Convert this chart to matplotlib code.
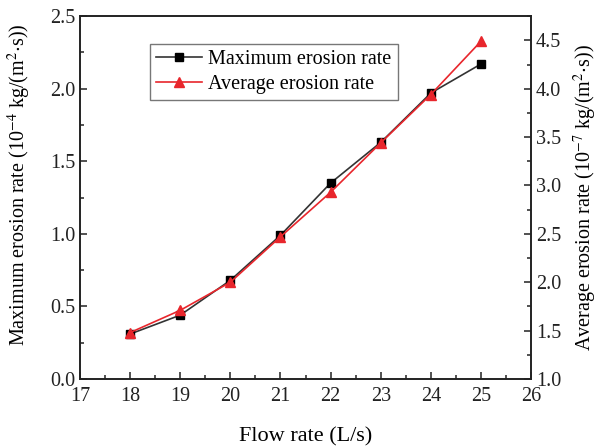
import matplotlib
matplotlib.use("Agg")
import matplotlib.pyplot as plt
from matplotlib.ticker import MultipleLocator

plt.rcParams['font.family'] = ['Liberation Serif', 'DejaVu Serif']
plt.rcParams['mathtext.fontset'] = 'stix'

flow = [18, 19, 20, 21, 22, 23, 24, 25]
max_rate = [0.31, 0.44, 0.68, 0.99, 1.35, 1.63, 1.97, 2.17]
avg_rate = [1.48, 1.71, 2.00, 2.47, 2.93, 3.44, 3.94, 4.49]

fig = plt.figure(figsize=(6.03, 4.48), dpi=100)
ax = fig.add_axes([0.1327, 0.154, 0.748, 0.81])
ax2 = ax.twinx()

l1, = ax.plot(flow, max_rate, color='#333333', lw=1.2, marker='s', ms=5.5,
              mfc='black', mec='black', label='Maximum erosion rate')
l2, = ax2.plot(flow, avg_rate, color='#e8262c', lw=1.2, marker='^', ms=6.5,
               mfc='#e8262c', mec='#e8262c', label='Average erosion rate')

ax.set_xlim(17, 26)
ax.set_ylim(0, 2.5)
ax2.set_ylim(1.0, 4.75)
ax.xaxis.set_major_locator(MultipleLocator(1))
ax.xaxis.set_minor_locator(MultipleLocator(0.5))
ax.yaxis.set_major_locator(MultipleLocator(0.5))
ax.yaxis.set_minor_locator(MultipleLocator(0.25))
ax2.yaxis.set_major_locator(MultipleLocator(0.5))
ax2.yaxis.set_minor_locator(MultipleLocator(0.25))
ax.yaxis.set_major_formatter(plt.FormatStrFormatter('%.1f'))
ax2.yaxis.set_major_formatter(plt.FormatStrFormatter('%.1f'))

for a in (ax, ax2):
    for s in a.spines.values():
        s.set_linewidth(1.2)
        s.set_color('#222222')
ax.tick_params(which='both', direction='in', top=False, right=False, labelsize=14.5, width=1.1, colors='#222222')
ax.tick_params(axis='x', which='major', pad=6)
ax.tick_params(which='major', length=5)
ax.tick_params(which='minor', length=3)
ax2.tick_params(which='both', direction='in', labelsize=14.5, width=1.1, colors='#222222')
ax2.tick_params(which='major', length=5)
ax2.tick_params(which='minor', length=3)

ax.set_xlabel('Flow rate (L/s)', fontsize=16, labelpad=15)
ax.set_ylabel(r'Maximum erosion rate (10$^{-4}$ kg/(m$^{2}$$\cdot$s))', fontsize=14.5, labelpad=2)
ax.yaxis.set_label_coords(-0.105, 0.535)
ax2.set_ylabel(r'Average erosion rate (10$^{-7}$ kg/(m$^{2}$$\cdot$s))', fontsize=14.5, labelpad=8)

leg = ax.legend(handles=[l1, l2], loc='upper left', bbox_to_anchor=(0.155, 0.923),
                fontsize=14.5, frameon=True, fancybox=False, edgecolor='#555555',
                handlelength=2.3, borderpad=0.3, labelspacing=0.3, handletextpad=0.3,
                borderaxespad=0)
leg.get_frame().set_linewidth(1.0)

fig.savefig('out.png', dpi=100)
